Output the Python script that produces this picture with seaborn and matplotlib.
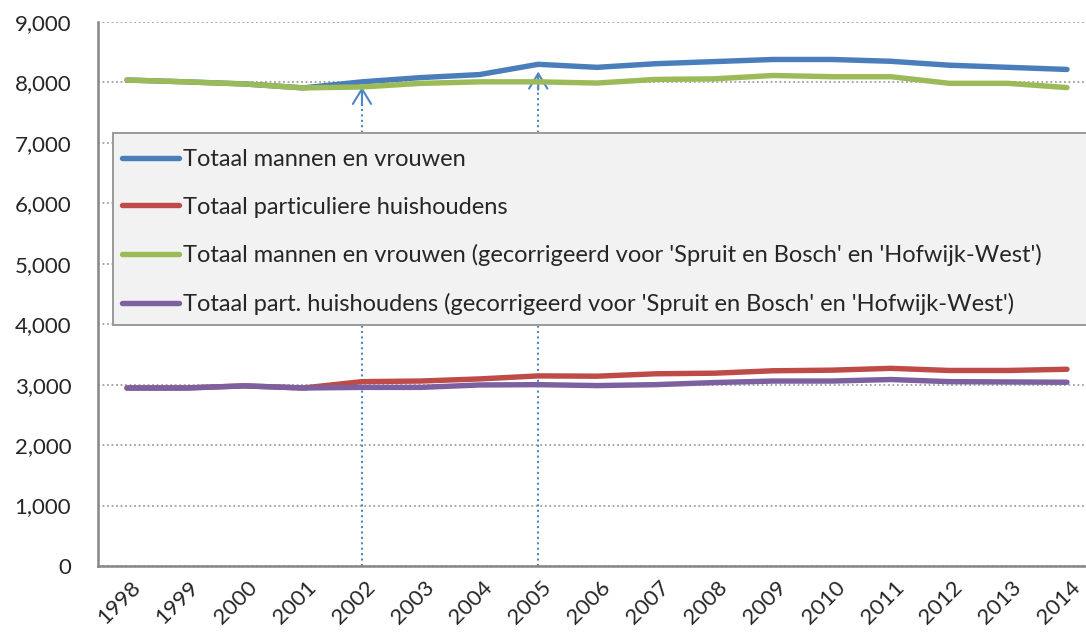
import numpy as np
import pandas as pd
import matplotlib
matplotlib.use("Agg")
import matplotlib.pyplot as plt
import matplotlib.patches as mpatches
import matplotlib.transforms as mtransforms
from matplotlib.ticker import FuncFormatter, FixedLocator
import seaborn as sns

# Data
years = [str(y) for y in range(1998, 2015)]
totaal = [8040, 8010, 7975, 7910, 8010, 8080, 8130, 8300, 8250, 8310, 8345, 8380, 8380, 8350, 8285, 8250, 8215]
huishoudens = [2945, 2945, 2980, 2945, 3050, 3060, 3095, 3145, 3140, 3180, 3190, 3230, 3240, 3270, 3235, 3235, 3255]
totaal_corr = [8040, 8010, 7975, 7910, 7925, 7985, 8010, 8010, 7990, 8050, 8060, 8115, 8095, 8095, 7985, 7985, 7915]
huish_corr = [2945, 2945, 2980, 2945, 2955, 2955, 2995, 3000, 2985, 3000, 3035, 3060, 3060, 3085, 3050, 3045, 3040]

series_names = [
    "Totaal mannen en vrouwen",
    "Totaal particuliere huishoudens",
    "Totaal mannen en vrouwen (gecorrigeerd voor 'Spruit en Bosch' en 'Hofwijk-West')",
    "Totaal part. huishoudens (gecorrigeerd voor 'Spruit en Bosch' en 'Hofwijk-West')",
]
series_values = [totaal, huishoudens, totaal_corr, huish_corr]
colors = ["#4A7EBB", "#BE4B48", "#9BBB59", "#7D60A0"]

# markers (arrows) for the boundary changes
arrow_years = ["2002", "2005"]
arrow_tips = [7925, 8180]

sns.set_theme(style="white")
plt.rcParams["font.family"] = ["Lato", "DejaVu Sans"]

fig = plt.figure(figsize=(10.86, 6.33), dpi=100)
ax = fig.add_axes([97.6 / 1086, 67 / 633, 998.75 / 1086, 544 / 633])

pos = np.arange(len(years))
for name, vals, col in zip(series_names, series_values, colors):
    df = pd.DataFrame({"pos": pos, "value": vals})
    sns.lineplot(data=df, x="pos", y="value", color=col, linewidth=3.9,
                 label=name, ax=ax, solid_capstyle="round", zorder=5)

# dotted arrows
for yr, tip in zip(arrow_years, arrow_tips):
    i = years.index(yr)
    ax.vlines(i, 0, tip - 60, colors="#4F86C6", linestyles=(0, (1, 1.6)),
              linewidth=1.5, zorder=2)
    ax.annotate("", xy=(i, tip), xytext=(i, tip - 300),
                arrowprops=dict(arrowstyle="->,head_length=0.9,head_width=0.55",
                                color="#4F86C6", lw=1.5, shrinkA=0, shrinkB=0),
                zorder=2)

ax.set_xlim(-0.5, len(years) - 0.5)
ax.set_ylim(0, 9000)
ax.set_yticks(range(0, 9001, 1000))
ax.yaxis.set_major_formatter(FuncFormatter(lambda v, p: f"{int(v):,}"))
ax.yaxis.grid(True, color="#A0A0A0", linestyle=(0, (1, 1.5)), linewidth=1.3)
ax.set_axisbelow(True)

ax.set_xticks(pos)
ax.set_xticklabels(years, rotation=45, ha="right", va="top", rotation_mode="anchor")
ax.xaxis.set_minor_locator(FixedLocator(np.arange(-0.5, len(years), 1)))
ax.tick_params(axis="x", which="major", length=0, pad=8, labelsize=16)
ax.tick_params(axis="x", which="minor", length=8, width=1.5, color="#868686", direction="out")
ax.tick_params(axis="y", length=8, width=1.5, color="#868686", direction="out", pad=11, labelsize=16)
offset = mtransforms.ScaledTranslation(3 / 100, 0, fig.dpi_scale_trans)
for lab in ax.get_xticklabels():
    lab.set_transform(lab.get_transform() + offset)

ax.set_xlabel("")
ax.set_ylabel("")
for s in ["top", "right"]:
    ax.spines[s].set_visible(False)
for s in ["left", "bottom"]:
    ax.spines[s].set_color("#868686")
    ax.spines[s].set_linewidth(1.8)

# legend box
box = mpatches.Rectangle((113 / 1086, 1 - 325 / 633), 990 / 1086, 192 / 633,
                         transform=fig.transFigure, facecolor="#F2F2F2",
                         edgecolor="#9A9A9A", linewidth=1.4, zorder=6, clip_on=False)
ax.add_patch(box)
leg = ax.legend(loc="upper left", bbox_to_anchor=(122 / 1086, 1 - 149 / 633),
                bbox_transform=fig.transFigure, frameon=False, fontsize=17,
                handlelength=2.4, handletextpad=0.17, labelspacing=1.13,
                borderpad=0, borderaxespad=0)
leg.set_zorder(7)
for h in leg.get_lines():
    h.set_linewidth(3.9)

fig.savefig("out.png", dpi=100)
